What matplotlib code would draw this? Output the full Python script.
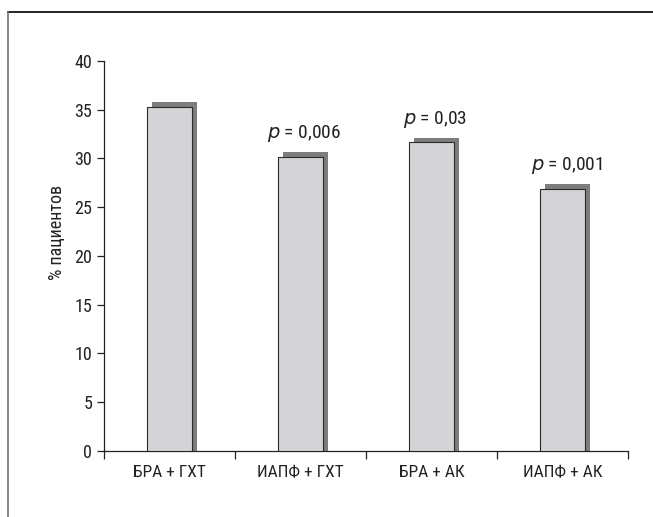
import matplotlib
matplotlib.use("Agg")
import matplotlib.pyplot as plt
from matplotlib import font_manager
from matplotlib.lines import Line2D
import numpy as np

groups = ["БРА + ГХТ", "ИАПФ + ГХТ", "БРА + АК", "ИАПФ + АК"]
values = [35.25, 30.2, 31.65, 26.9]
p_labels = [None, "0,006", "0,03", "0,001"]

# the original uses a condensed sans; take the first one that is installed
names = {f.name for f in font_manager.fontManager.ttflist}
narrow = [n for n in ["Liberation Sans Narrow", "Arial Narrow", "Roboto Condensed",
                      "DejaVu Sans Condensed", "Roboto"] if n in names]
plt.rcParams['font.family'] = narrow[:1] + ['DejaVu Sans']

fig = plt.figure(figsize=(6.53, 5.17), dpi=100)
ax = fig.add_axes([0.1593, 0.1277, 0.8024, 0.7543])

x = np.arange(len(groups))
w = 0.344
dx = 0.038
dy = 0.5

# shadow behind each bar, then the bar itself
ax.bar(x + dx, np.array(values) + dy, width=w, color="#7d7d7d", linewidth=0, zorder=2)
ax.bar(x, values, width=w, color="#d4d4d6", edgecolor="#2a2a2a", linewidth=0.8, zorder=3)

for xi, v, p in zip(x, values, p_labels):
    if p is None:
        continue
    ax.text(xi + 0.03, v + 1.3, r"$\it{p}$ = " + p, ha="center", va="bottom",
            fontsize=14, color="#222222")

ax.set_xlim(-0.5, len(groups) - 0.5)
ax.set_ylim(0, 40)
ax.set_yticks(range(0, 41, 5))
ax.set_xticks(np.arange(-0.5, len(groups), 1.0))
ax.set_xticklabels([])
ax.set_xticks(x, minor=True)
ax.set_xticklabels(groups, minor=True)
ax.tick_params(axis="x", which="major", direction="out", length=5.5, width=0.9, color="#222222")
ax.tick_params(axis="x", which="minor", length=0, pad=10, labelsize=12.5, labelcolor="#222222")
ax.tick_params(axis="y", direction="out", length=5, width=0.9, pad=3.5, labelsize=13, color="#222222",
               labelcolor="#222222")

for s in ["top", "right"]:
    ax.spines[s].set_visible(False)
for s in ["left", "bottom"]:
    ax.spines[s].set_color("#222222")
    ax.spines[s].set_linewidth(0.9)

ax.set_ylabel("% пациентов", fontsize=13, color="#222222")
ax.yaxis.set_label_coords(-0.073, 0.56)

# frame around the figure (only top and left edges are visible)
fig.add_artist(Line2D([8 / 653, 1.0], [1 - 12 / 517, 1 - 12 / 517], color="black", linewidth=1.2))
fig.add_artist(Line2D([8 / 653, 8 / 653], [0.0, 1 - 12 / 517], color="#707070", linewidth=1.2))

plt.savefig("out.png", dpi=100)
